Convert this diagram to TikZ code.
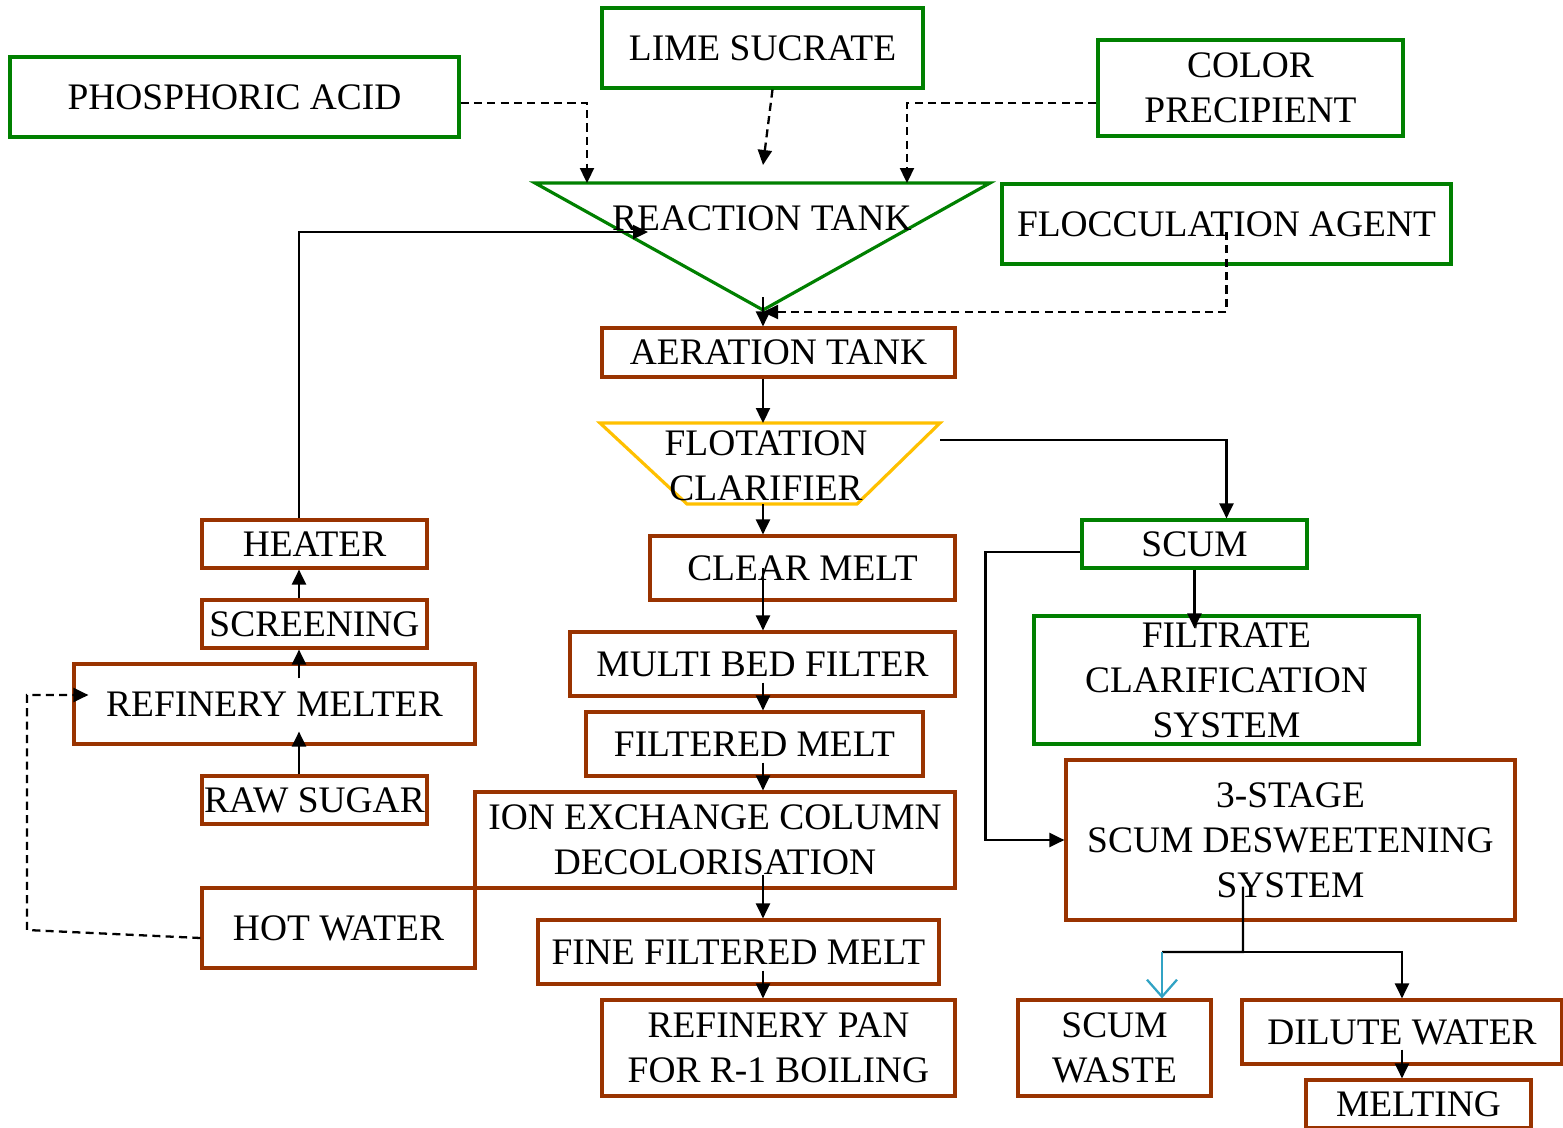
\documentclass[tikz,border=0pt]{standalone}
\usepackage{fontspec}
\setmainfont{Liberation Serif}
\usepackage{tikz}
\usetikzlibrary{arrows.meta,positioning,calc}
\usepackage{xcolor}
\definecolor{pgreen}{RGB}{0,128,0}
\definecolor{pbrown}{RGB}{153,51,0}
\definecolor{pyellow}{RGB}{255,192,0}
\definecolor{pcyan}{RGB}{49,163,196}
\tikzset{
  greenbox/.style ={draw=pgreen,line width=0.9pt,align=center,inner sep=0pt},
  brownbox/.style ={draw=pbrown,line width=0.9pt,align=center,inner sep=0pt},
  lbl/.style      ={align=center,inner sep=0pt},
  flow/.style     ={-{Triangle[length=1.5mm,width=1.4mm]},line width=0.65pt},
  dflow/.style    ={flow,dash pattern=on 2.3pt off 1.5pt},
  wflow/.style    ={-{Straight Barb[length=1.7mm,width=3mm]},line width=0.65pt,pcyan},
}

\begin{document}
\begin{tikzpicture}[font=\fontsize{10.65}{12.8}\selectfont]
\useasboundingbox (0,0) rectangle (15.63,-11.28);
% ---- chemicals in ----
\node[greenbox,minimum width=4.49cm,minimum height=0.80cm] (phos)  at (2.345,-0.97) {PHOSPHORIC ACID};
\node[greenbox,minimum width=3.21cm,minimum height=0.80cm] (lime)  at (7.625,-0.48) {LIME SUCRATE};
\node[greenbox,minimum width=3.05cm,minimum height=0.96cm] (color) at (12.505,-0.88) {COLOR\\PRECIPIENT};
\node[greenbox,minimum width=4.49cm,minimum height=0.80cm] (floc)  at (12.265,-2.24) {FLOCCULATION AGENT};
% ---- reaction tank ----
\coordinate (rtl) at (5.35,-1.83);
\coordinate (rtr) at (9.90,-1.83);
\coordinate (rtb) at (7.63,-3.10);
\draw[pgreen,line width=0.9pt] (rtl) -- (rtr) -- (rtb) -- cycle;
\node[lbl] (rtank) at (7.62,-2.18) {REACTION TANK};
% ---- main line ----
\node[brownbox,minimum width=3.53cm,minimum height=0.49cm] (aer) at (7.785,-3.525) {AERATION TANK};
\coordinate (ftl) at (6.00,-4.23);
\coordinate (ftr) at (9.40,-4.23);
\coordinate (fbr) at (8.57,-5.04);
\coordinate (fbl) at (6.87,-5.04);
\draw[pyellow,line width=0.9pt] (ftl) -- (ftr) -- (fbr) -- (fbl) -- cycle;
\node[lbl] (flot) at (7.66,-4.655) {FLOTATION\\CLARIFIER};
\node[brownbox,minimum width=3.05cm,minimum height=0.64cm] (clear) at (8.025,-5.68) {CLEAR MELT};
\node[brownbox,minimum width=3.85cm,minimum height=0.64cm] (multi) at (7.625,-6.64) {MULTI BED FILTER};
\node[brownbox,minimum width=3.37cm,minimum height=0.64cm] (filt)  at (7.545,-7.44) {FILTERED MELT};
\node[brownbox,minimum width=4.80cm,minimum height=0.96cm] (ion)   at (7.15,-8.40)  {ION EXCHANGE COLUMN\\DECOLORISATION};
\node[brownbox,minimum width=4.01cm,minimum height=0.64cm] (fine)  at (7.385,-9.52) {FINE FILTERED MELT};
\node[brownbox,minimum width=3.53cm,minimum height=0.96cm] (pan)   at (7.785,-10.48) {REFINERY PAN\\FOR R-1 BOILING};
% ---- melter side ----
\node[brownbox,minimum width=2.25cm,minimum height=0.48cm] (heater) at (3.145,-5.44) {HEATER};
\node[brownbox,minimum width=2.25cm,minimum height=0.48cm] (screen) at (3.145,-6.24) {SCREENING};
\node[brownbox,minimum width=4.01cm,minimum height=0.80cm] (melter) at (2.745,-7.04) {REFINERY MELTER};
\node[brownbox,minimum width=2.25cm,minimum height=0.48cm] (raw)    at (3.145,-8.00) {RAW SUGAR};
\node[brownbox,minimum width=2.73cm,minimum height=0.80cm] (hot)    at (3.385,-9.28) {HOT WATER};
% ---- scum side ----
\node[greenbox,minimum width=2.25cm,minimum height=0.48cm] (scum)   at (11.945,-5.44) {SCUM};
\node[greenbox,minimum width=3.85cm,minimum height=1.28cm] (filtr)  at (12.265,-6.80) {FILTRATE\\CLARIFICATION\\SYSTEM};
\node[brownbox,minimum width=4.49cm,minimum height=1.60cm] (stage)  at (12.905,-8.40) {3-STAGE\\SCUM DESWEETENING\\SYSTEM};
\node[brownbox,minimum width=1.93cm,minimum height=0.96cm] (waste)  at (11.145,-10.48) {SCUM\\WASTE};
\node[brownbox,minimum width=3.20cm,minimum height=0.64cm] (dilute) at (14.02,-10.32) {DILUTE WATER};
\node[brownbox,minimum width=2.25cm,minimum height=0.48cm] (melting) at (14.185,-11.04) {MELTING};
% ---- dosing (dashed) ----
\coordinate (ltip) at (7.63,-1.65);
\draw[dflow] ([yshift=-0.6mm]phos.east) -| ([xshift=5.2mm]rtl);
\draw[dflow] ([xshift=1mm]lime.south) -- (ltip);
\draw[dflow] ([yshift=-1.5mm]color.west) -| ([xshift=-8.3mm]rtr);
\draw[dflow] ([yshift=-0.8mm]floc.center) |- ([yshift=-0.2mm]rtb);
% ---- main flows ----
\draw[flow] ([yshift=1.3mm]rtb) -- (aer.north -| rtb);
\draw[flow] (aer.south -| rtb) -- (ftl -| rtb);
\draw[flow] (fbl -| rtb) -- (clear.north -| rtb);
\draw[flow] (clear.center -| rtb) -- (multi.north -| rtb);
\foreach \s/\d in {multi/filt,filt/ion,ion/fine,fine/pan}
  \draw[flow] ([yshift=1.5mm]\s.south -| rtb) -- (\d.north -| rtb);
% ---- melter loop ----
\coordinate (lcol) at (2.99,-5.20);
\coordinate (rin)  at (6.48,-2.32);
\coordinate (hwc)  at (0.27,-9.30);
\draw[flow] (raw.north -| lcol) -- ([yshift=1.4mm]melter.south -| lcol);
\draw[flow] ([yshift=-1.6mm]melter.north -| lcol) -- (screen.south -| lcol);
\draw[flow] (screen.north -| lcol) -- (heater.south -| lcol);
\draw[flow] (heater.north -| lcol) |- (rin);
\draw[dflow] ([yshift=-1mm]hot.west) -- (hwc) |- ([xshift=1.6mm,yshift=0.9mm]melter.west);
% ---- scum handling ----
\draw[flow] ([yshift=-1.7mm]ftr) -| ([xshift=3.2mm]scum.north);
\draw[flow] ([yshift=-0.8mm]scum.west) -- ++(-0.95,0) |- (stage.west);
\draw[flow] (scum.south) -- ([yshift=-1.4mm]scum.south |- filtr.north);
\coordinate (sj)   at (12.43,-9.52);
\coordinate (wtop) at ([xshift=4.75mm]waste.north);
\draw[line width=0.65pt] ([xshift=-4.75mm,yshift=3.5mm]stage.south) -- (sj) -- (sj -| wtop);
\draw[wflow] (sj -| wtop) -- (wtop);
\draw[flow] (sj) -| (dilute.north);
\draw[flow] ([yshift=1.6mm]dilute.south) -- (melting.north -| dilute);
\end{tikzpicture}
\end{document}
